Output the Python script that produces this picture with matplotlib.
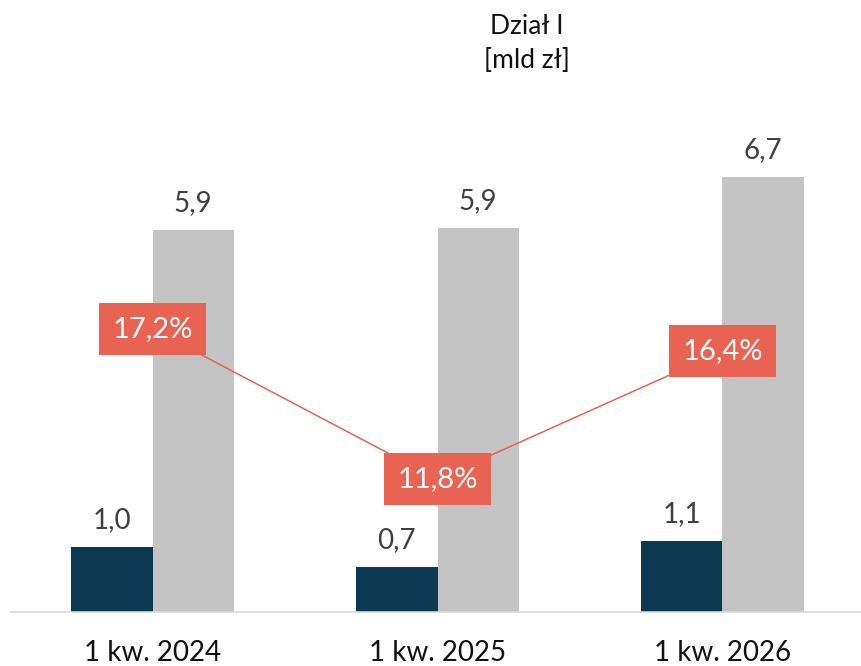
import matplotlib
matplotlib.use("Agg")
import matplotlib.pyplot as plt
import numpy as np

plt.rcParams['font.family'] = ['Lato', 'DejaVu Sans']

# dane z wykresu
kategorie = ["1 kw. 2024", "1 kw. 2025", "1 kw. 2026"]
seria_ciemna = [1.0, 0.7, 1.1]      # mld zl
seria_szara = [5.9, 5.94, 6.72]     # mld zl
udzial = [17.2, 11.8, 16.4]         # %

GRANAT = "#0c3852"
SZARY = "#c4c4c4"
CZERWONY = "#e86352"

def fmt(v, suf=""):
    return "{:.1f}".format(v).replace(".", ",") + suf

fig = plt.figure(figsize=(8.61, 6.66), dpi=100)
ax = fig.add_axes([10 / 861, 1 - 612 / 666, 855 / 861, 512 / 666])
x = np.arange(len(kategorie))
w = 0.286

ax.bar(x - w / 2, seria_ciemna, w, color=GRANAT, zorder=2)
ax.bar(x + w / 2, seria_szara, w, color=SZARY, zorder=2)

for xi, v in zip(x - w / 2, seria_ciemna):
    ax.annotate(fmt(v), (xi, v), xytext=(0, 10), textcoords="offset points",
                ha="center", va="bottom", fontsize=20, color="#404040")
for xi, v in zip(x + w / 2, seria_szara):
    ax.annotate(fmt(v), (xi, v), xytext=(0, 10), textcoords="offset points",
                ha="center", va="bottom", fontsize=20, color="#404040")

ax.set_xlim(-0.5, 2.5)
ax.set_ylim(0, 7.91)
ax.set_xticks(x)
ax.set_xticklabels(kategorie, fontsize=20, color="#111111")
ax.tick_params(axis="x", length=0, pad=20)
ax.set_yticks([])
for s in ["top", "right", "left"]:
    ax.spines[s].set_visible(False)
ax.spines["bottom"].set_color("#d9d9d9")
ax.spines["bottom"].set_linewidth(1.2)

ax2 = ax.twinx()
ax2.plot(x, udzial, color=CZERWONY, lw=1.1, zorder=3)
for xi, v in zip(x, udzial):
    ax2.text(xi, v, fmt(v, "%"), ha="center", va="center", fontsize=21,
             color="white", zorder=4,
             bbox=dict(boxstyle="square,pad=0.45", fc=CZERWONY, ec="none"))
ax2.set_ylim(7.02, 25.44)
ax2.set_yticks([])
for s in ax2.spines.values():
    s.set_visible(False)

fig.text(527 / 861, 1 - 43 / 666, "Dział I\n[mld zł]", ha="center", va="center",
         fontsize=19, color="#111111", linespacing=1.45)

fig.savefig("out.png", dpi=100)
